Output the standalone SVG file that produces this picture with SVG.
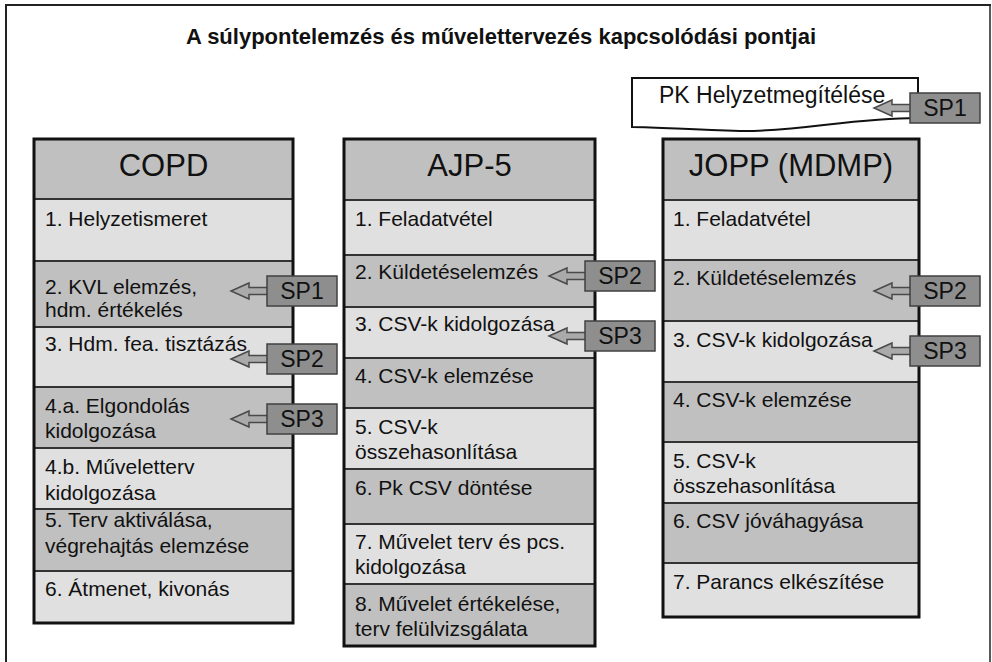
<svg xmlns="http://www.w3.org/2000/svg" width="992" height="662" viewBox="0 0 992 662">
<style>
  text { font-family: "Liberation Sans", Arial, sans-serif; fill: #111; }
  .title { font-size: 22px; font-weight: bold; text-anchor: middle; }
  .hdr { font-size: 31px; text-anchor: middle; }
  .row { font-size: 21px; }
  .sp { font-size: 23px; text-anchor: middle; }
  .light { fill: #e0e0e0; stroke: #333; stroke-width: 2; }
  .dark { fill: #c0c0c0; stroke: #333; stroke-width: 2; }
  .outline { fill: none; stroke: #111; stroke-width: 3; }
  .spbox { fill: #8e8e8e; stroke: #404040; stroke-width: 1.5; }
  .arrow { fill: #aaaaaa; stroke: #4a4a4a; stroke-width: 1.5; }
</style>
<defs>
  <g id="sparrow">
    <path class="arrow" d="M4,-3.5 H-18 V-8 L-36,0 L-18,8 V3.5 H4 Z"/>
    <rect class="spbox" x="0" y="-15" width="70" height="30"/>
  </g>
</defs>
<rect width="992" height="662" fill="#fff"/>
<g id="frame">
  <line x1="6" y1="5" x2="991" y2="5" stroke="#222" stroke-width="2"/>
  <line x1="6" y1="4" x2="6" y2="662" stroke="#222" stroke-width="2"/>
  <line x1="990" y1="4" x2="990" y2="662" stroke="#222" stroke-width="1.5"/>
</g>
<text class="title" x="501" y="44">A súlypontelemzés és művelettervezés kapcsolódási pontjai</text>

<g id="pk">
  <path d="M632,78 H918 V118 C850,118 800,132 740,131 C690,130 660,127 632,127 Z" fill="#fff" stroke="#111" stroke-width="2"/>
  <text class="row" x="659" y="103" style="font-size:23px">PK Helyzetmegítélése</text>
</g>

<g id="copd">
  <rect class="dark" x="34" y="139" width="259" height="60"/>
  <rect class="light" x="34" y="199" width="259" height="62"/>
  <rect class="dark" x="34" y="261" width="259" height="66"/>
  <rect class="light" x="34" y="327" width="259" height="60"/>
  <rect class="dark" x="34" y="387" width="259" height="61"/>
  <rect class="light" x="34" y="448" width="259" height="61"/>
  <rect class="dark" x="34" y="509" width="259" height="62"/>
  <rect class="light" x="34" y="571" width="259" height="52"/>
  <rect class="outline" x="34" y="139" width="259" height="484"/>
  <text class="hdr" x="163.5" y="176">COPD</text>
  <text class="row" x="45" y="226">1. Helyzetismeret</text>
  <text class="row" x="45" y="294">2. KVL elemzés,</text>
  <text class="row" x="45" y="317">hdm. értékelés</text>
  <text class="row" x="45" y="351">3. Hdm. fea. tisztázás</text>
  <text class="row" x="45" y="413">4.a. Elgondolás</text>
  <text class="row" x="45" y="438">kidolgozása</text>
  <text class="row" x="45" y="474">4.b. Műveletterv</text>
  <text class="row" x="45" y="500">kidolgozása</text>
  <text class="row" x="45" y="527">5. Terv aktiválása,</text>
  <text class="row" x="45" y="553">végrehajtás elemzése</text>
  <text class="row" x="45" y="596">6. Átmenet, kivonás</text>
</g>

<g id="ajp5">
  <rect class="dark" x="344" y="139" width="251" height="61"/>
  <rect class="light" x="344" y="200" width="251" height="55"/>
  <rect class="dark" x="344" y="255" width="251" height="52"/>
  <rect class="light" x="344" y="307" width="251" height="51"/>
  <rect class="dark" x="344" y="358" width="251" height="50"/>
  <rect class="light" x="344" y="408" width="251" height="61"/>
  <rect class="dark" x="344" y="469" width="251" height="55"/>
  <rect class="light" x="344" y="524" width="251" height="60"/>
  <rect class="dark" x="344" y="584" width="251" height="62"/>
  <rect class="outline" x="344" y="139" width="251" height="507"/>
  <text class="hdr" x="469.5" y="176">AJP-5</text>
  <text class="row" x="355" y="226">1. Feladatvétel</text>
  <text class="row" x="355" y="279">2. Küldetéselemzés</text>
  <text class="row" x="355" y="331">3. CSV-k kidolgozása</text>
  <text class="row" x="355" y="383">4. CSV-k elemzése</text>
  <text class="row" x="355" y="434">5. CSV-k</text>
  <text class="row" x="355" y="459">összehasonlítása</text>
  <text class="row" x="355" y="495">6. Pk CSV döntése</text>
  <text class="row" x="355" y="549">7. Művelet terv és pcs.</text>
  <text class="row" x="355" y="574">kidolgozása</text>
  <text class="row" x="355" y="611">8. Művelet értékelése,</text>
  <text class="row" x="355" y="636">terv felülvizsgálata</text>
</g>

<g id="jopp">
  <rect class="dark" x="663" y="139" width="256" height="61"/>
  <rect class="light" x="663" y="200" width="256" height="60"/>
  <rect class="dark" x="663" y="260" width="256" height="61"/>
  <rect class="light" x="663" y="321" width="256" height="61"/>
  <rect class="dark" x="663" y="382" width="256" height="60"/>
  <rect class="light" x="663" y="442" width="256" height="61"/>
  <rect class="dark" x="663" y="503" width="256" height="60"/>
  <rect class="light" x="663" y="563" width="256" height="54"/>
  <rect class="outline" x="663" y="139" width="256" height="478"/>
  <text class="hdr" x="791" y="176">JOPP (MDMP)</text>
  <text class="row" x="673" y="226">1. Feladatvétel</text>
  <text class="row" x="673" y="285">2. Küldetéselemzés</text>
  <text class="row" x="673" y="347">3. CSV-k kidolgozása</text>
  <text class="row" x="673" y="407">4. CSV-k elemzése</text>
  <text class="row" x="673" y="468">5. CSV-k</text>
  <text class="row" x="673" y="493">összehasonlítása</text>
  <text class="row" x="673" y="528">6. CSV jóváhagyása</text>
  <text class="row" x="673" y="589">7. Parancs elkészítése</text>
</g>

<g id="connectors">
  <g id="sp1-pk"><use href="#sparrow" x="910" y="108"/><text class="sp" x="945" y="116">SP1</text></g>
  <g id="sp1-copd"><use href="#sparrow" x="267" y="291"/><text class="sp" x="302" y="299">SP1</text></g>
  <g id="sp2-copd"><use href="#sparrow" x="267" y="359"/><text class="sp" x="302" y="367">SP2</text></g>
  <g id="sp3-copd"><use href="#sparrow" x="267" y="419"/><text class="sp" x="302" y="427">SP3</text></g>
  <g id="sp2-ajp"><use href="#sparrow" x="585" y="276"/><text class="sp" x="620" y="284">SP2</text></g>
  <g id="sp3-ajp"><use href="#sparrow" x="585" y="336"/><text class="sp" x="620" y="344">SP3</text></g>
  <g id="sp2-jopp"><use href="#sparrow" x="910" y="291"/><text class="sp" x="945" y="299">SP2</text></g>
  <g id="sp3-jopp"><use href="#sparrow" x="910" y="351"/><text class="sp" x="945" y="359">SP3</text></g>
</g>
</svg>
